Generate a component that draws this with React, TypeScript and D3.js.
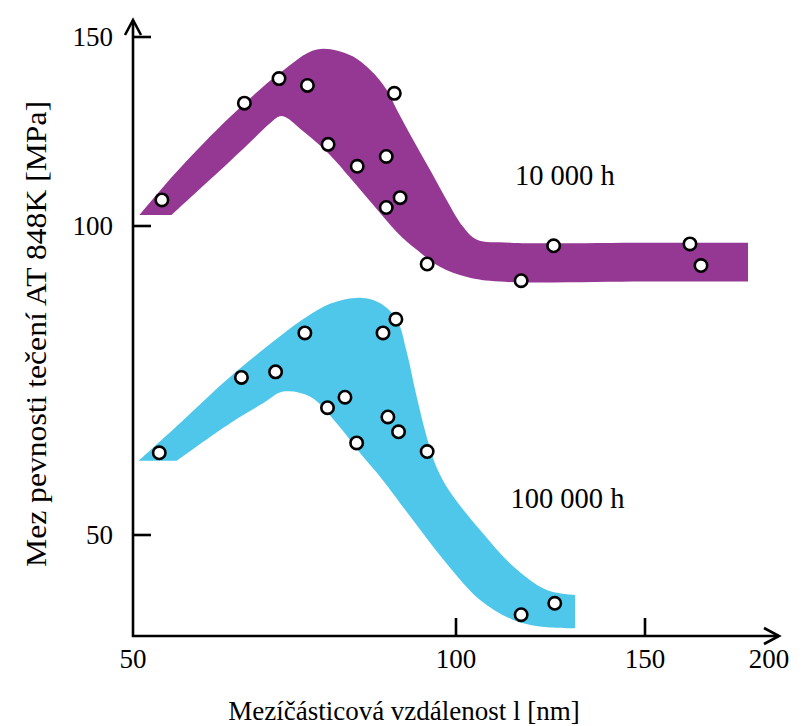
import React from "react";
import * as d3 from "d3";

// ---- data ----
const xTicks = [50, 100, 150, 200];
const xTickMarks = [100, 150];
const yTicks = [50, 100, 150];

// 10 000 h band: upper edge (left->right), lower edge (right->left)
const upper10k: [number, number][] = [
  [50.7, 102.9], [55.1, 114.8], [61.6, 128.9], [68.5, 140.4],
  [74.2, 146.7], [79.7, 145.2], [83.2, 141.3], [86.2, 136.0], [88.1, 130.7],
  [91.2, 122.8], [94.6, 114.8], [98.0, 106.9], [101.5, 99.9], [104.5, 97.8],
  [112.3, 97.3], [150, 97.3], [190.5, 97.3],
];
const lower10k: [number, number][] = [
  [190.5, 91.0], [150, 91.0], [109.9, 91.0], [102.4, 91.75], [96.6, 93.4],
  [92.0, 96.1], [88.1, 99.0], [83.7, 105.6], [79.7, 112.7], [76.3, 118.8],
  [72.0, 125.1], [68.8, 129.1], [67.1, 127.2], [65.0, 123.5], [61.6, 117.2],
  [57.7, 109.8], [54.3, 102.9],
];

// 100 000 h band
const upper100k: [number, number][] = [
  [50.6, 62.0], [55.3, 68.1], [61.6, 75.6], [68.5, 82.1], [72.3, 85.1],
  [76.3, 87.4], [81.4, 88.4], [85.0, 87.5], [88.1, 84.8], [90.0, 79.5],
  [91.9, 72.4], [93.9, 65.9], [96.0, 60.8], [98.7, 57.0], [105.3, 50.8],
  [113.1, 44.9], [121.5, 41.1], [129.1, 40.3],
];
const lower100k: [number, number][] = [
  [129.1, 34.9], [119.7, 35.2], [113.1, 36.25], [105.3, 39.5], [98.0, 45.4],
  [91.2, 52.4], [85.0, 59.4], [81.9, 62.7], [77.4, 68.1], [73.1, 72.4],
  [69.0, 73.2], [66.1, 71.3], [61.6, 68.1], [54.9, 62.0],
];

const points10k: [number, number][] = [
  [53.2, 106.9], [63.5, 132.5], [68.4, 139.0], [72.7, 137.2], [87.6, 135.1],
  [76.0, 121.6], [80.9, 115.8], [86.1, 118.4], [88.7, 107.5], [86.1, 104.9],
  [94.0, 93.85], [115.0, 91.15], [123.3, 96.8], [166.5, 97.1], [170.8, 93.6],
];
const points100k: [number, number][] = [
  [52.9, 63.3], [63.1, 75.5], [67.9, 76.4], [72.3, 82.7], [85.5, 82.7],
  [87.9, 84.9], [75.9, 70.6], [78.8, 72.3], [80.8, 64.9], [86.4, 69.1],
  [88.4, 66.7], [94.0, 63.5], [115.0, 37.1], [123.6, 38.95],
];

const seriesLabels = [
  { text: "10 000 h", x: 126.3, y: 110.8 },
  { text: "100 000 h", x: 127.0, y: 54.3 },
];

const xTitle = "Mezíčásticová vzdálenost l [nm]";
const yTitle = "Mez pevnosti tečení AT 848K [MPa]";

const PURPLE = "#953893";
const CYAN = "#4FC7EA";

export default function App() {
  const W = 807, H = 726;
  const xl = d3
    .scaleLinear()
    .domain([50, 100, 150, 200].map(Math.log))
    .range([133, 456, 645, 769]);
  const x = (v: number) => xl(Math.log(v));
  const y = d3.scaleLinear().domain([50, 100, 150]).range([535, 226, 37]);

  const edge = d3
    .line<[number, number]>()
    .x((d) => x(d[0]))
    .y((d) => y(d[1]))
    .curve(d3.curveCatmullRom.alpha(0.5));

  const bandPath = (up: [number, number][], lo: [number, number][]) =>
    (edge(up) || "") + (edge(lo) || "").replace(/^M/, "L") + "Z";

  const font = "'Liberation Serif', 'Times New Roman', serif";
  const axX = 133, axY = 636;

  return (
    <svg
      width={W}
      height={H}
      style={{ position: "absolute", left: 0, top: 0, background: "#fff" }}
      fontFamily={font}
    >
      <path d={bandPath(upper10k, lower10k)} fill={PURPLE} />
      <path d={bandPath(upper100k, lower100k)} fill={CYAN} />

      {/* axes */}
      <g stroke="#000" strokeWidth={2.6} fill="none">
        <line x1={axX} y1={20} x2={axX} y2={axY + 1} />
        <line x1={axX - 1} y1={axY} x2={779} y2={axY} />
        <polyline points={`${axX - 8},35 ${axX},20 ${axX + 8},35`} />
        <polyline points={`764,628 779,${axY} 764,644`} />
        {yTicks.map((t) => (
          <line key={"yt" + t} x1={axX} x2={axX + 18} y1={y(t)} y2={y(t)} />
        ))}
        {xTickMarks.map((t) => (
          <line key={"xt" + t} x1={x(t)} x2={x(t)} y1={axY} y2={axY - 18} />
        ))}
      </g>

      {yTicks.map((t) => (
        <text key={"yl" + t} x={113} y={y(t)} dy="0.35em" textAnchor="end" fontSize={27}>
          {t}
        </text>
      ))}
      {xTicks.map((t) => (
        <text key={"xl" + t} x={x(t)} y={668} textAnchor="middle" fontSize={27}>
          {t}
        </text>
      ))}

      {points10k.concat(points100k).map((p, i) => (
        <circle
          key={"p" + i}
          cx={x(p[0])}
          cy={y(p[1])}
          r={6.2}
          fill="#fff"
          stroke="#000"
          strokeWidth={2.6}
        />
      ))}

      {seriesLabels.map((l) => (
        <text key={l.text} x={x(l.x)} y={y(l.y)} textAnchor="middle" fontSize={28.5}>
          {l.text}
        </text>
      ))}

      <text x={404} y={720} textAnchor="middle" fontSize={27}>
        {xTitle}
      </text>
      <text
        transform={`translate(46,334) rotate(-90)`}
        textAnchor="middle"
        fontSize={29}
        textLength={466}
        lengthAdjust="spacingAndGlyphs"
      >
        {yTitle}
      </text>
    </svg>
  );
}
